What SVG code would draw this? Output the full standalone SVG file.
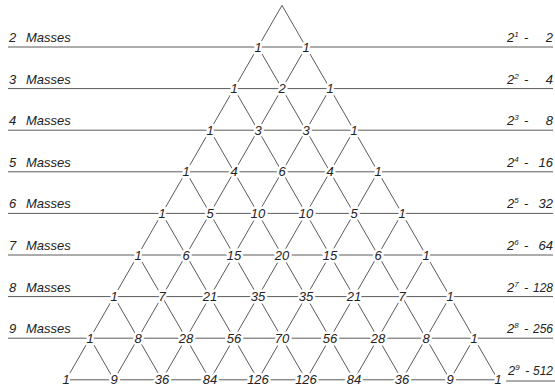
<svg xmlns="http://www.w3.org/2000/svg" width="555" height="387" viewBox="0 0 555 387">
<style>
.ln{stroke:#5a5a5a;stroke-width:1;fill:none}
.n{font-family:"Liberation Sans",Arial,sans-serif;font-style:italic;font-size:13px;fill:#222;text-anchor:middle;stroke:#fff;stroke-width:5;paint-order:stroke;stroke-linejoin:round}
.lab{font-family:"Liberation Sans",Arial,sans-serif;font-style:italic;font-size:13px;fill:#222}
.sup{font-size:8px}
.v{text-anchor:end}
.v3{text-anchor:end;font-size:12px}
</style>
<rect width="555" height="387" fill="#fff"/>
<g id="connectors" class="ln">
<path d="M8 47H553M8 88.6H553M8 130.2H553M8 171.8H553M8 213.4H553M8 255H553M8 296.6H553M8 338.2H553M66 379.8H498M506 381H555"/>
<path d="M282 5.4L66 379.8M306 47L114 379.8M330 88.6L162 379.8M354 130.2L210 379.8M378 171.8L258 379.8M402 213.4L306 379.8M426 255L354 379.8M450 296.6L402 379.8M474 338.2L450 379.8"/>
<path d="M282 5.4L498 379.8M258 47L450 379.8M234 88.6L402 379.8M210 130.2L354 379.8M186 171.8L306 379.8M162 213.4L258 379.8M138 255L210 379.8M114 296.6L162 379.8M90 338.2L114 379.8"/>
</g>
<g id="labels-left" class="lab">
<text x="9" y="42">2</text><text x="26" y="42">Masses</text>
<text x="9" y="83.6">3</text><text x="26" y="83.6">Masses</text>
<text x="9" y="125.2">4</text><text x="26" y="125.2">Masses</text>
<text x="9" y="166.8">5</text><text x="26" y="166.8">Masses</text>
<text x="9" y="208.4">6</text><text x="26" y="208.4">Masses</text>
<text x="9" y="250">7</text><text x="26" y="250">Masses</text>
<text x="9" y="291.6">8</text><text x="26" y="291.6">Masses</text>
<text x="9" y="333.2">9</text><text x="26" y="333.2">Masses</text>
</g>
<g id="labels-right" class="lab">
<text x="507" y="42">2<tspan class="sup" dy="-5">1</tspan><tspan dy="5" x="524">-</tspan></text><text class="v" x="553" y="42">2</text>
<text x="507" y="83.6">2<tspan class="sup" dy="-5">2</tspan><tspan dy="5" x="524">-</tspan></text><text class="v" x="553" y="83.6">4</text>
<text x="507" y="125.2">2<tspan class="sup" dy="-5">3</tspan><tspan dy="5" x="524">-</tspan></text><text class="v" x="553" y="125.2">8</text>
<text x="507" y="166.8">2<tspan class="sup" dy="-5">4</tspan><tspan dy="5" x="524">-</tspan></text><text class="v" x="553" y="166.8">16</text>
<text x="507" y="208.4">2<tspan class="sup" dy="-5">5</tspan><tspan dy="5" x="524">-</tspan></text><text class="v" x="553" y="208.4">32</text>
<text x="507" y="250">2<tspan class="sup" dy="-5">6</tspan><tspan dy="5" x="524">-</tspan></text><text class="v" x="553" y="250">64</text>
<text x="507" y="291.6">2<tspan class="sup" dy="-5">7</tspan><tspan dy="5" x="524">-</tspan></text><text class="v3" x="553" y="291.6">128</text>
<text x="507" y="333.2">2<tspan class="sup" dy="-5">8</tspan><tspan dy="5" x="524">-</tspan></text><text class="v3" x="553" y="333.2">256</text>
<text x="508" y="375">2<tspan class="sup" dy="-5">9</tspan><tspan dy="5" x="525">-</tspan></text><text class="v3" x="553" y="375">512</text>
</g>
<g id="nodes" class="n">
<g id="r1"><text x="258" y="51.5">1</text><text x="306" y="51.5">1</text></g>
<g id="r2"><text x="234" y="93.1">1</text><text x="282" y="93.1">2</text><text x="330" y="93.1">1</text></g>
<g id="r3"><text x="210" y="134.7">1</text><text x="258" y="134.7">3</text><text x="306" y="134.7">3</text><text x="354" y="134.7">1</text></g>
<g id="r4"><text x="186" y="176.3">1</text><text x="234" y="176.3">4</text><text x="282" y="176.3">6</text><text x="330" y="176.3">4</text><text x="378" y="176.3">1</text></g>
<g id="r5"><text x="162" y="217.9">1</text><text x="210" y="217.9">5</text><text x="258" y="217.9">10</text><text x="306" y="217.9">10</text><text x="354" y="217.9">5</text><text x="402" y="217.9">1</text></g>
<g id="r6"><text x="138" y="259.5">1</text><text x="186" y="259.5">6</text><text x="234" y="259.5">15</text><text x="282" y="259.5">20</text><text x="330" y="259.5">15</text><text x="378" y="259.5">6</text><text x="426" y="259.5">1</text></g>
<g id="r7"><text x="114" y="301.1">1</text><text x="162" y="301.1">7</text><text x="210" y="301.1">21</text><text x="258" y="301.1">35</text><text x="306" y="301.1">35</text><text x="354" y="301.1">21</text><text x="402" y="301.1">7</text><text x="450" y="301.1">1</text></g>
<g id="r8"><text x="90" y="342.7">1</text><text x="138" y="342.7">8</text><text x="186" y="342.7">28</text><text x="234" y="342.7">56</text><text x="282" y="342.7">70</text><text x="330" y="342.7">56</text><text x="378" y="342.7">28</text><text x="426" y="342.7">8</text><text x="474" y="342.7">1</text></g>
<g id="r9"><text x="66" y="384.3">1</text><text x="114" y="384.3">9</text><text x="162" y="384.3">36</text><text x="210" y="384.3">84</text><text x="258" y="384.3">126</text><text x="306" y="384.3">126</text><text x="354" y="384.3">84</text><text x="402" y="384.3">36</text><text x="450" y="384.3">9</text><text x="498" y="384.3">1</text></g>
</g>
</svg>
